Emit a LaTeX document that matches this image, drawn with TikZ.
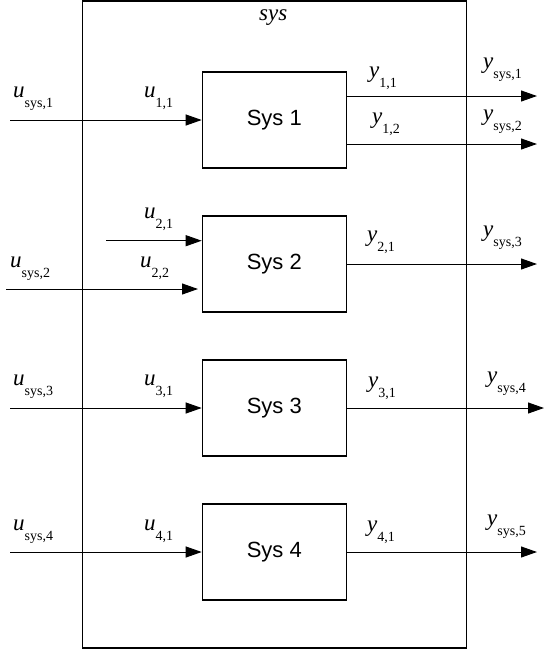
\documentclass[tikz,border=0pt]{standalone}
\usepackage{fontspec}
\setmainfont{Liberation Serif}
\newfontfamily\arialf{Liberation Sans}
\usetikzlibrary{arrows.meta}
\newcommand\siglbl[2]{{\fontsize{23}{23}\selectfont\itshape #1}\raisebox{-10pt}{\fontsize{14}{14}\selectfont #2}}
\begin{document}
\begin{tikzpicture}[x=1pt,y=-1pt,
  sysblock/.style={draw,line width=1.2pt,minimum width=144pt,minimum height=96pt,inner sep=0pt,font=\arialf\fontsize{22}{22}\selectfont},
  sig/.style={line width=1pt,-{Triangle[length=16pt,width=11pt]}},
  lbl/.style={anchor=base west,inner sep=0pt}]
\useasboundingbox (0,0) rectangle (547,649);
\node[draw,line width=1.2pt,minimum width=384pt,minimum height=647pt,inner sep=0pt] (outer) at (274.5,324.5) {};
\node[lbl] (title) at (259,20) {\fontsize{23}{23}\selectfont\itshape sys};
\node[sysblock] (s1) at (274.3,120) {Sys 1};
\node[sysblock] (s2) at (274.3,264) {Sys 2};
\node[sysblock] (s3) at (274.3,408) {Sys 3};
\node[sysblock] (s4) at (274.3,552) {Sys 4};
% inputs
\coordinate (i1) at (10,120);
\coordinate (i21) at (106,240.7);
\coordinate (i22) at (6,289);
\coordinate (e22) at (198,289);
\coordinate (i3) at (10,408);
\coordinate (i4) at (10,552);
\draw[sig] (i1) -- (s1.west);
\draw[sig] (i21) -- (i21 -| s2.west);
\draw[sig] (i22) -- (e22);
\draw[sig] (i3) -- (s3.west);
\draw[sig] (i4) -- (s4.west);
% outputs
\coordinate (o11) at (537,96);
\coordinate (o12) at (537,144);
\coordinate (o21) at (537,264);
\coordinate (o31) at (544,408);
\coordinate (o41) at (537,552);
\draw[sig] (s1.east |- o11) -- (o11);
\draw[sig] (s1.east |- o12) -- (o12);
\draw[sig] (s2.east) -- (o21);
\draw[sig] (s3.east) -- (o31);
\draw[sig] (s4.east) -- (o41);
% labels
\node[lbl] (lus1) at (13,97) {\siglbl{u}{sys,1}};
\node[lbl] (lu11) at (144,97) {\siglbl{u}{1,1}};
\node[lbl] (ly11) at (369,77) {\siglbl{y}{1,1}};
\node[lbl] (lys1) at (483,68) {\siglbl{y}{sys,1}};
\node[lbl] (ly12) at (372,123) {\siglbl{y}{1,2}};
\node[lbl] (lys2) at (483,120) {\siglbl{y}{sys,2}};
\node[lbl] (lu21) at (144,218) {\siglbl{u}{2,1}};
\node[lbl] (lu22) at (140,267) {\siglbl{u}{2,2}};
\node[lbl] (lus2) at (10,267) {\siglbl{u}{sys,2}};
\node[lbl] (ly21) at (367,241) {\siglbl{y}{2,1}};
\node[lbl] (lys3) at (483,236) {\siglbl{y}{sys,3}};
\node[lbl] (lus3) at (13,385) {\siglbl{u}{sys,3}};
\node[lbl] (lu31) at (144,385) {\siglbl{u}{3,1}};
\node[lbl] (ly31) at (368,387) {\siglbl{y}{3,1}};
\node[lbl] (lys4) at (487,382) {\siglbl{y}{sys,4}};
\node[lbl] (lus4) at (13,530) {\siglbl{u}{sys,4}};
\node[lbl] (lu41) at (144,530) {\siglbl{u}{4,1}};
\node[lbl] (ly41) at (367,531) {\siglbl{y}{4,1}};
\node[lbl] (lys5) at (487,525) {\siglbl{y}{sys,5}};
\end{tikzpicture}
\end{document}
